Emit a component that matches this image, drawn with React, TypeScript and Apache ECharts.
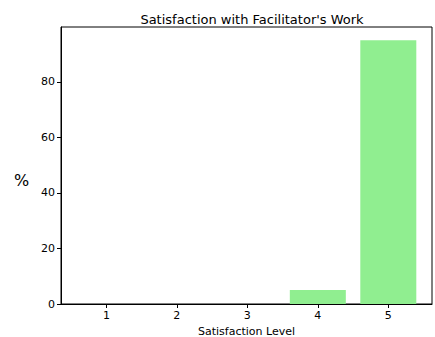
import React, { useEffect, useRef } from "react";
import * as echarts from "echarts";

const levels = [1, 2, 3, 4, 5];
const percents = [0, 0, 0, 5, 95];
const yTicks = [0, 20, 40, 60, 80];

export default function App() {
  const ref = useRef<HTMLDivElement>(null);
  useEffect(() => {
    document.body.style.margin = "0";
    const chart = echarts.init(ref.current!, null, { renderer: "svg" });
    const font = "DejaVu Sans";
    chart.setOption({
      animation: false,
      textStyle: { fontFamily: font },
      title: {
        text: "Satisfaction with Facilitator's Work",
        left: 247,
        top: 8,
        textAlign: "center",
        textStyle: { fontFamily: font, fontSize: 13, fontWeight: "normal", color: "#000" },
      },
      graphic: [
        {
          type: "text",
          left: 14,
          top: 172,
          style: { text: "%", fontFamily: font, fontSize: 16, fill: "#000" },
        },
      ],
      grid: {
        left: 61,
        right: 3,
        top: 27,
        bottom: 33,
        show: true,
        borderColor: "#000",
        borderWidth: 1,
        containLabel: false,
        outerBoundsMode: "none",
      },
      xAxis: {
        type: "value",
        min: 0.356,
        max: 5.62,
        name: "Satisfaction Level",
        nameLocation: "middle",
        nameGap: 21,
        nameTextStyle: { fontFamily: font, fontSize: 11, color: "#000" },
        splitLine: { show: false },
        axisLine: { show: true, lineStyle: { color: "#000", width: 1 } },
        axisTick: { show: true, length: 4, lineStyle: { color: "#000" }, customValues: levels },
        axisLabel: {
          color: "#000",
          fontSize: 11,
          margin: 6,
          customValues: levels,
          formatter: (v: number) => String(v),
        },
      },
      yAxis: {
        type: "value",
        min: 0,
        max: 99.75,
        splitLine: { show: false },
        axisLine: { show: true, lineStyle: { color: "#000", width: 1 } },
        axisTick: { show: true, length: 4, lineStyle: { color: "#000" }, customValues: yTicks },
        axisLabel: {
          color: "#000",
          fontSize: 11,
          margin: 6,
          customValues: yTicks,
        },
      },
      series: [
        {
          type: "bar",
          data: levels.map((l, i) => [l, percents[i]]),
          barWidth: 56,
          itemStyle: { color: "#90EE90" },
        },
      ],
    });
    return () => chart.dispose();
  }, []);
  return <div ref={ref} style={{ width: 435, height: 337 }} />;
}
